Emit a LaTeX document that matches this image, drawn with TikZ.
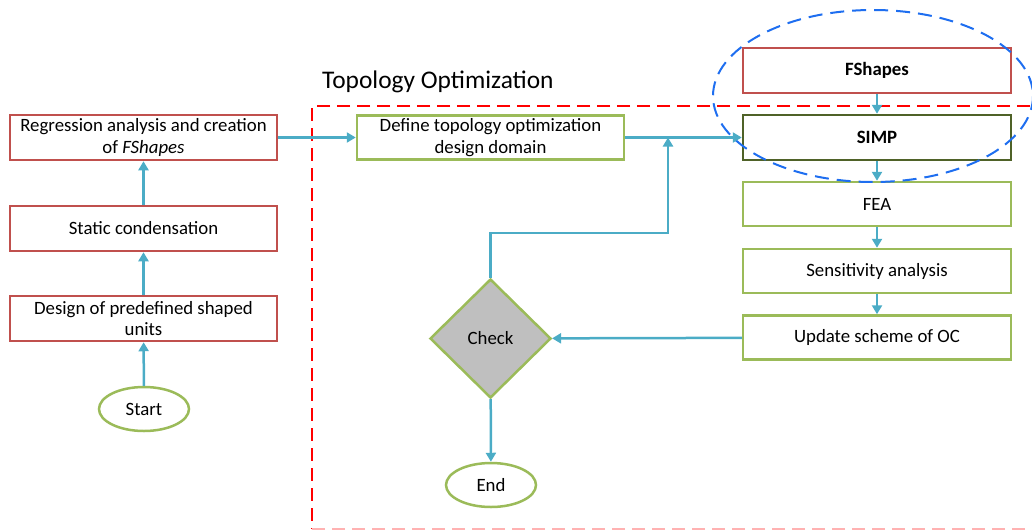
\documentclass[tikz,border=0pt]{standalone}
\usepackage{fontspec}
\setmainfont{Carlito}
\usetikzlibrary{arrows.meta,shapes.geometric}

\definecolor{boxred}{RGB}{192,80,77}
\definecolor{boxgreen}{RGB}{155,187,89}
\definecolor{boxolive}{RGB}{79,98,40}
\definecolor{flow}{RGB}{75,172,198}
\definecolor{zone}{RGB}{255,0,0}
\definecolor{focus}{RGB}{30,110,240}
\definecolor{decision}{RGB}{191,191,191}

\tikzset{
  txt/.style={font=\fontsize{18.8}{21.5}\selectfont, align=center, text=black},
  stepbox/.style={txt, draw, line width=2.5pt, rectangle, inner sep=0pt},
  redbox/.style={stepbox, draw=boxred, minimum width=267pt, minimum height=45pt},
  greenbox/.style={stepbox, draw=boxgreen, minimum width=268pt, minimum height=44pt},
  terminal/.style={txt, draw=boxgreen, line width=2.5pt, ellipse, minimum width=90pt, minimum height=44pt, inner sep=0pt},
  arr/.style={draw=flow, line width=2.5pt, -{Triangle[length=9pt,width=10pt]}},
  zoneline/.style={line width=2pt, dash pattern=on 13pt off 7pt},
}

\begin{document}
\begin{tikzpicture}[x=1pt,y=-1pt]
\useasboundingbox (0,0) rectangle (1032,530);
\clip (0,0) rectangle (1032,530);

% topology optimization zone (right side runs past the page edge)
\coordinate (zoneTR) at (1050,106);
\coordinate (zoneTL) at (312,106);
\coordinate (zoneBL) at (312,529);
\coordinate (zoneBR) at (1050,529);
\draw[zone, zoneline] (zoneTR) -- (zoneTL) -- (zoneBL);
\draw[zone!30, zoneline] (zoneBL) -- (zoneBR);
\node[font=\fontsize{25.4}{30}\selectfont, anchor=west, inner sep=0pt] (title) at (322,82) {Topology Optimization};

% preparation column
\node[redbox] (reg) at (143.5,137.5) {Regression analysis and creation\\ of \textit{FShapes}};
\node[redbox] (stat) at (143.5,228.5) {Static condensation};
\node[redbox] (des) at (143.5,318.5) {Design of predefined shaped\\ units};
\node[terminal] (start) at (144,409) {Start};

% optimization loop
\node[greenbox, minimum width=267pt, minimum height=44pt] (dom) at (490.5,137.5) {Define topology optimization\\ design domain};
\node[redbox, minimum width=268pt] (fsh) at (877,70.5) {\textbf{FShapes}};
\node[stepbox, draw=boxolive, minimum width=268pt, minimum height=45pt] (simp) at (877,137.5) {\textbf{SIMP}};
\node[greenbox] (fea) at (877,204) {FEA};
\node[greenbox] (sens) at (877,271) {Sensitivity analysis};
\node[greenbox] (upd) at (877,337.5) {Update scheme of OC};
\node[txt, diamond, draw=boxgreen, fill=decision, line width=2.5pt, minimum width=121pt, minimum height=119pt, inner sep=0pt] (chk) at (490.5,338.5) {Check};
\node[terminal] (end) at (491,485) {End};

% highlight around the SIMP inputs
\draw[focus, line width=2pt, dash pattern=on 14pt off 8pt] (873,96) ellipse [x radius=160, y radius=86];

% connectors
\draw[arr] (start) -- (des);
\draw[arr] (des) -- (stat);
\draw[arr] (stat) -- (reg);
\draw[arr] (reg) -- (dom);
\draw[arr] (dom) -- (simp);
\draw[arr] (fsh) -- (simp);
\draw[arr] (simp) -- (fea);
\draw[arr] (fea) -- (sens);
\draw[arr] (sens) -- (upd);
\draw[arr] (upd) -- (chk);
\draw[arr] (chk) -- (end);
\coordinate (bend) at (668,233);
\coordinate (join) at (668,137.5);
\draw[arr] (chk.north) |- (bend) -- (join);
\end{tikzpicture}
\end{document}
